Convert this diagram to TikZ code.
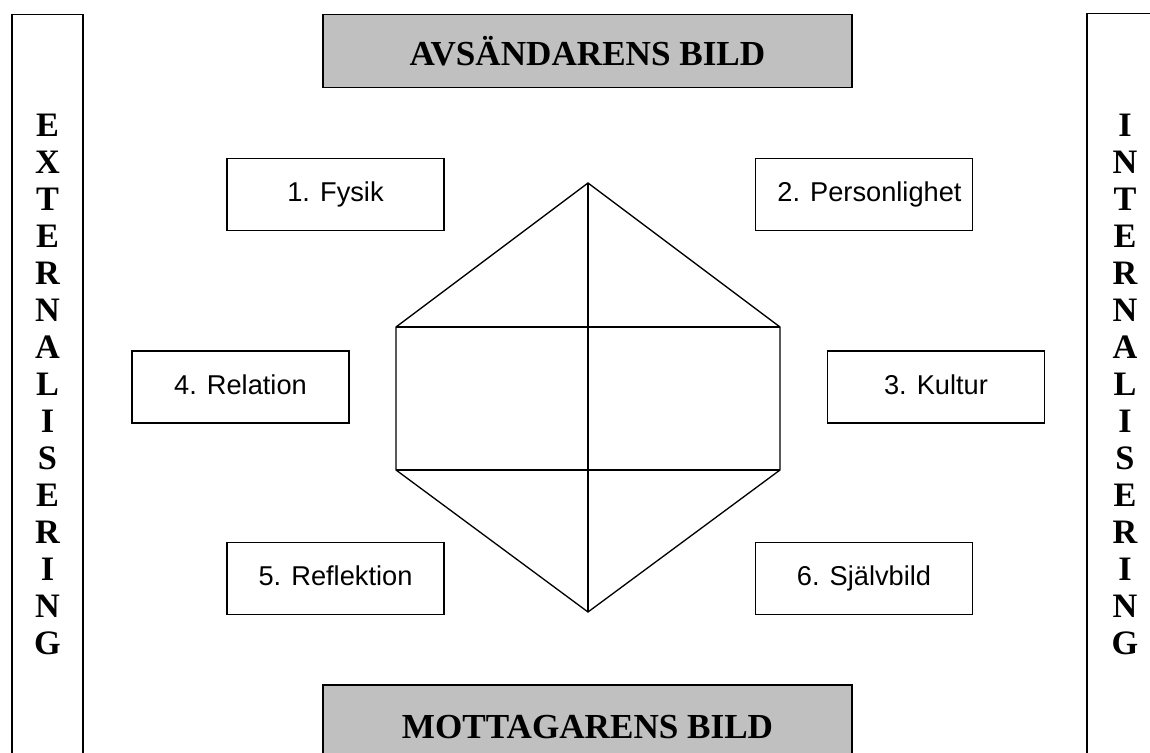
\documentclass[tikz,border=0pt]{standalone}
\usepackage{fontspec}
\setmainfont{Liberation Serif}
\setsansfont{Liberation Sans}
\usepackage{xcolor}
\usepackage{tikz}
\definecolor{boxgray}{RGB}{192,192,192}

\begin{document}
\begin{tikzpicture}[x=0.02cm, y=-0.02cm, line width=0.75pt,
    facet/.style={draw, rectangle, minimum width=4.34cm, minimum height=1.44cm, inner sep=0pt, text height=11.5pt, text depth=3.5pt, font=\sffamily\fontsize{15.5}{19}\selectfont},
    sideletter/.style={inner sep=0pt, font=\bfseries\fontsize{19.5}{22}\selectfont},
    header/.style={font=\bfseries\fontsize{20}{23}\selectfont}]
    \useasboundingbox (0,0) rectangle (1150,753);
    \clip (0,0) rectangle (1150,753);

    % sidebars
    \draw (12,14.5) rectangle (83,780);
    \draw (1087,13.5) rectangle (1180,780);
    \foreach \ch [count=\i] in {E,X,T,E,R,N,A,L,I,S,E,R,I,N,G}
        \node[sideletter] (ext\i) at (47.5,{125+(\i-1)*37}) {\ch};
    \foreach \ch [count=\i] in {I,N,T,E,R,N,A,L,I,S,E,R,I,N,G}
        \node[sideletter] (int\i) at (1125,{125+(\i-1)*37}) {\ch};

    % sender and receiver
    \node (avs) [draw, rectangle, fill=boxgray, line width=1pt, minimum width=10.58cm, minimum height=1.46cm, header] at (587.5,51) {AVSÄNDARENS BILD};
    \draw[fill=boxgray, line width=1pt] (323,685) rectangle (852,790);
    \node (mot) [header] at (587.5,727) {MOTTAGARENS BILD};

    % the six boxes
    \node (fysik) [facet] at (335.5,194.5) {1. Fysik};
    \node (person) [facet] at (864,194.5) {\hspace{0.4em}2. Personlighet};
    \node (relation) [facet] at (240.5,387) {4. Relation};
    \node (kultur) [facet] at (936,387) {3. Kultur};
    \node (reflektion) [facet] at (335.5,578.5) {5. Reflektion};
    \node (sjalv) [facet] at (864,578.5) {6. Självbild};

    % hexagon
    \coordinate (top) at (588,183);
    \coordinate (ul) at (396,327);
    \coordinate (ur) at (780,327);
    \coordinate (ll) at (396,470);
    \coordinate (lr) at (780,470);
    \coordinate (bot) at (588,612);
    \draw (top) -- (ul) -- (ll) -- (bot) -- (lr) -- (ur) -- cycle;
    \draw (ul) -- (ur);
    \draw (ll) -- (lr);
    \draw (top) -- (bot);
\end{tikzpicture}
\end{document}
